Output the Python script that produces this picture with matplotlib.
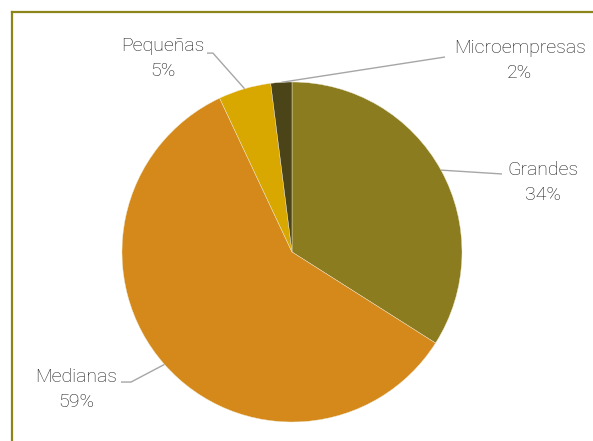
import matplotlib.pyplot as plt
import numpy as np
from matplotlib.lines import Line2D

labels = ["Grandes", "Medianas", "Pequeñas", "Microempresas"]
shares = [34, 59, 5, 2]
colors = ["#8B7C1F", "#D4891A", "#D9A800", "#4B4419"]

# label text centres and the point where each leader line leaves the text (pie radius = 1)
label_pos = {
    "Grandes": (1.476, 0.41),
    "Medianas": (-1.271, -0.81),
    "Pequeñas": (-0.759, 1.14),
    "Microempresas": (1.341, 1.125),
}
leader_start = {
    "Grandes": [(1.235, 0.459)],
    "Medianas": [(-1.006, -0.765), (-0.947, -0.765)],
    "Pequeñas": [(-0.50, 1.17), (-0.465, 1.17)],
    "Microempresas": [(0.90, 1.147)],
}

plt.rcParams["font.family"] = ["Roboto", "DejaVu Sans"]

fig = plt.figure(figsize=(5.93, 4.41), dpi=100)
ax = fig.add_axes([122 / 593, 19 / 441, 340 / 593, 340 / 441])

wedges, _ = ax.pie(shares, colors=colors, startangle=90, counterclock=False,
                   radius=1, wedgeprops=dict(edgecolor="#f0e8d0", linewidth=0.3))
ax.set_xlim(-1, 1)
ax.set_ylim(-1, 1)
ax.set_aspect("equal")
ax.axis("off")

for w, lab, val in zip(wedges, labels, shares):
    mid = np.deg2rad((w.theta1 + w.theta2) / 2)
    anchor = (np.cos(mid), np.sin(mid))
    pts = leader_start[lab] + [anchor]
    xs, ys = zip(*pts)
    ax.plot(xs, ys, color="#A6A6A6", lw=1, clip_on=False, solid_capstyle="butt")
    tx, ty = label_pos[lab]
    ax.text(tx, ty, f"{lab}\n{val}%", ha="center", va="center", fontsize=14,
            fontweight="light", color="#1a1a1a", linespacing=1.5)

# border along the top and left edges
fig.add_artist(Line2D([12 / 593, 1.0], [1 - 12 / 441, 1 - 12 / 441],
                      transform=fig.transFigure, color="#8C8519", lw=1.6))
fig.add_artist(Line2D([12 / 593, 12 / 593], [0, 1 - 12 / 441],
                      transform=fig.transFigure, color="#8C8519", lw=1.6))

fig.savefig("out.png", dpi=100)
